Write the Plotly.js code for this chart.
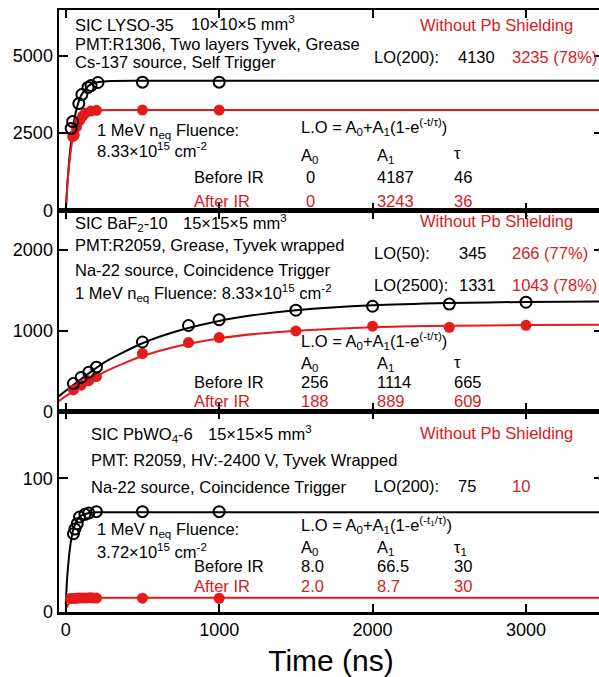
<!DOCTYPE html>
<html><head><meta charset="utf-8">
<script src="https://cdn.plot.ly/plotly-3.0.1.min.js"></script>
<style>html,body{margin:0;padding:0;overflow:hidden;background:#fff}</style>
</head><body><div id="chart" style="width:606px;height:677px"></div>
<script>
// ---------- Data ----------
// Panel 1: SIC LYSO-35
const lysoBeforeT  = [35, 45, 85, 105, 145, 165, 210, 500, 1000];
const lysoBeforeLO = [2650, 2870, 3450, 3740, 3970, 4030, 4130, 4140, 4140];
const lysoAfterT   = [45, 55, 70, 90, 110, 130, 165, 200, 500, 1000];
const lysoAfterLO  = [2390, 2430, 2700, 2900, 3050, 3150, 3210, 3235, 3240, 3240];
const lysoFitT       = [0, 10, 20, 30, 40, 50, 70, 100, 150, 200, 300, 500, 3600];
const lysoBeforeFit  = [0, 820, 1480, 2000, 2430, 2780, 3270, 3710, 4030, 4130, 4180, 4187, 4187];
const lysoAfterFit   = [0, 790, 1380, 1830, 2180, 2440, 2780, 3040, 3190, 3230, 3242, 3243, 3243];

// Panel 2: SIC BaF2-10
const bafT        = [50, 100, 150, 200, 500, 800, 1000, 1500, 2000, 2500, 3000];
const bafBeforeLO = [345, 420, 485, 548, 860, 1065, 1137, 1255, 1304, 1331, 1354];
const bafAfterLO  = [266, 325, 380, 432, 717, 853, 915, 998, 1056, 1043, 1068];
const bafFitT       = [-60, 0, 250, 500, 750, 1000, 1250, 1500, 2000, 2500, 3000, 3600];
const bafBeforeFit  = [165, 256, 605, 845, 1009, 1122, 1200, 1253, 1315, 1344, 1358, 1364];
const bafAfterFit   = [108, 188, 487, 686, 818, 905, 963, 1001, 1044, 1062, 1070, 1074];

// Panel 3: SIC PbWO4-6
const pwoBeforeT  = [50, 60, 75, 90, 125, 150, 200, 500, 1000];
const pwoBeforeLO = [58.5, 62, 66, 71, 73, 74, 75, 75, 75];
const pwoAfterT   = [30, 50, 65, 80, 100, 120, 140, 160, 180, 200, 500, 1000];
const pwoAfterLO  = [10.1, 10.2, 10.3, 10.4, 10.5, 10.5, 10.5, 10.6, 10.5, 10.4, 10.3, 10.2];
const pwoFitT       = [0, 10, 20, 30, 40, 50, 75, 100, 150, 200, 3600];
const pwoBeforeFit  = [6, 27, 40, 50, 57, 62, 69, 72, 74, 74.5, 74.5];
const pwoAfterFit   = [2, 4.5, 6.2, 7.5, 8.3, 8.9, 10, 10.4, 10.6, 10.7, 10.7];

// Tick values
const xTicks = [0, 1000, 2000, 3000];
const y1Ticks = [0, 2500, 5000];
const y2Ticks = [0, 1000, 2000];
const y3Ticks = [0, 100];

// ---------- Styling ----------
const BLACK = '#000000';
const RED = '#e31b1b';
const TXTRED = '#d42222';
const FONT = 'Liberation Sans, Arial, sans-serif';
const FS = 16.5;

function fitLine(x, y, color, xa, ya) {
  return {x: x, y: y, xaxis: xa, yaxis: ya, mode: 'lines', type: 'scatter',
    line: {color: color, width: 2, shape: 'spline', smoothing: 0.6}, hoverinfo: 'skip', showlegend: false};
}
function pts(x, y, color, open, xa, ya) {
  return {x: x, y: y, xaxis: xa, yaxis: ya, mode: 'markers', type: 'scatter', showlegend: false,
    marker: open ? {symbol: 'circle-open', size: 11, color: color, line: {width: 2, color: color}}
                 : {symbol: 'circle', size: 11, color: color, line: {width: 0}}};
}

const traces = [
  // top panel (x3, y3)
  fitLine(lysoFitT, lysoBeforeFit, BLACK, 'x3', 'y3'),
  fitLine(lysoFitT, lysoAfterFit, RED, 'x3', 'y3'),
  pts(lysoAfterT, lysoAfterLO, RED, false, 'x3', 'y3'),
  pts(lysoBeforeT, lysoBeforeLO, BLACK, true, 'x3', 'y3'),
  // middle panel (x2, y2)
  fitLine(bafFitT, bafBeforeFit, BLACK, 'x2', 'y2'),
  fitLine(bafFitT, bafAfterFit, RED, 'x2', 'y2'),
  pts(bafT, bafAfterLO, RED, false, 'x2', 'y2'),
  pts(bafT, bafBeforeLO, BLACK, true, 'x2', 'y2'),
  // bottom panel (x, y)
  fitLine(pwoFitT, pwoBeforeFit, BLACK, 'x', 'y'),
  fitLine(pwoFitT, pwoAfterFit, RED, 'x', 'y'),
  pts(pwoAfterT, pwoAfterLO, RED, false, 'x', 'y'),
  pts(pwoBeforeT, pwoBeforeLO, BLACK, true, 'x', 'y'),
];

// ---------- Layout geometry ----------
const W = 606, H = 677;
const ML = 59, MR = 3, MT = 9.5, MB = 65.3;
const PW = W - ML - MR, PH = H - MT - MB;
const XR = [-44, 3502];

function xax(anchor, labels) {
  return {anchor: anchor, range: XR, tickvals: xTicks, showticklabels: labels,
    ticks: 'inside', ticklen: 8, tickwidth: 2, tickcolor: BLACK,
    showline: true, linewidth: 2.5, linecolor: BLACK, mirror: 'ticks',
    showgrid: false, zeroline: false,
    tickfont: {family: FONT, size: 18, color: BLACK}};
}
function yax(anchor, range, ticks, domain) {
  return {anchor: anchor, range: range, tickvals: ticks, domain: domain,
    ticks: 'inside', ticklen: 9, tickwidth: 2, tickcolor: BLACK,
    showline: true, linewidth: 2.5, linecolor: BLACK, mirror: 'ticks',
    showgrid: false, zeroline: false,
    tickfont: {family: FONT, size: 18, color: BLACK}};
}

// annotation helper from pixel positions (left/middle anchoring)
function A(text, px, py, color, anchor) {
  return {text: text, xref: 'paper', yref: 'paper',
    x: (px - ML) / PW, y: (H - MB - py) / PH,
    xanchor: anchor || 'left', yanchor: 'middle', showarrow: false, borderpad: 0,
    font: {family: FONT, size: FS, color: color || BLACK}};
}

const eqT  = 'L.O = A<sub>0</sub>+A<sub>1</sub>(1-e<sup>(-t/τ)</sup>)';
const eqT1 = 'L.O = A<sub>0</sub>+A<sub>1</sub>(1-e<sup>(-t<sub>1</sub>/τ)</sup>)';

const annotations = [
  // ----- top panel -----
  A('SIC LYSO-35', 74, 25), A('10×10×5 mm<sup>3</sup>', 190, 23),
  A('PMT:R1306, Two layers Tyvek, Grease', 74, 43.5),
  A('Cs-137 source, Self Trigger', 74, 62),
  A('Without Pb Shielding', 419, 25, TXTRED),
  A('LO(200):', 373, 57), A('4130', 457, 57), A('3235 (78%)', 511, 57, TXTRED),
  A('1 MeV n<sub>eq</sub> Fluence:', 96, 131),
  A('8.33×10<sup>15</sup> cm<sup>-2</sup>', 96, 150),
  A(eqT, 300, 127),
  A('A<sub>0</sub>', 300, 156), A('A<sub>1</sub>', 376, 156), A('τ', 453, 153),
  A('Before IR', 193, 177), A('0', 305, 177), A('4187', 376, 177), A('46', 453, 177),
  A('After IR', 193, 201, TXTRED), A('0', 305, 201, TXTRED), A('3243', 376, 201, TXTRED), A('36', 453, 201, TXTRED),
  // ----- middle panel -----
  A('SIC BaF<sub>2</sub>-10', 74, 224), A('15×15×5 mm<sup>3</sup>', 182, 222),
  A('PMT:R2059, Grease, Tyvek wrapped', 74, 245),
  A('Na-22 source, Coincidence Trigger', 74, 270),
  A('1 MeV n<sub>eq</sub> Fluence: 8.33×10<sup>15</sup> cm<sup>-2</sup>', 74, 293),
  A('Without Pb Shielding', 419, 221, TXTRED),
  A('LO(50):', 373, 253), A('345', 458, 253), A('266 (77%)', 511, 253, TXTRED),
  A('LO(2500):', 373, 285), A('1331', 458, 285), A('1043 (78%)', 511, 285, TXTRED),
  A(eqT, 300, 341),
  A('A<sub>0</sub>', 300, 364), A('A<sub>1</sub>', 376, 364), A('τ', 453, 362),
  A('Before IR', 193, 382), A('256', 300, 382), A('1114', 376, 382), A('665', 453, 382),
  A('After IR', 193, 401, TXTRED), A('188', 300, 401, TXTRED), A('889', 376, 401, TXTRED), A('609', 453, 401, TXTRED),
  // ----- bottom panel -----
  A('SIC PbWO<sub>4</sub>-6', 90, 435), A('15×15×5 mm<sup>3</sup>', 207, 433),
  A('PMT: R2059, HV:-2400 V, Tyvek Wrapped', 90, 460),
  A('Na-22 source, Coincidence Trigger', 90, 487),
  A('Without Pb Shielding', 419, 433, TXTRED),
  A('LO(200):', 373, 486), A('75', 457, 486), A('10', 511, 486, TXTRED),
  A('1 MeV n<sub>eq</sub> Fluence:', 96, 530),
  A('3.72×10<sup>15</sup> cm<sup>-2</sup>', 96, 551),
  A(eqT1, 300, 525),
  A('A<sub>0</sub>', 300, 548), A('A<sub>1</sub>', 376, 548), A('τ<sub>1</sub>', 453, 548),
  A('Before IR', 193, 566), A('8.0', 300, 566), A('66.5', 376, 566), A('30', 453, 566),
  A('After IR', 193, 586, TXTRED), A('2.0', 300, 586, TXTRED), A('8.7', 376, 586, TXTRED), A('30', 453, 586, TXTRED),
];

const xMain = xax('y', true);
xMain.title = {text: 'Time (ns)', font: {family: FONT, size: 30, color: BLACK}, standoff: 11};

const layout = {
  width: W, height: H,
  margin: {l: ML, r: MR, t: MT, b: MB, pad: 0},
  paper_bgcolor: '#ffffff', plot_bgcolor: '#ffffff',
  showlegend: false,
  font: {family: FONT, size: FS, color: BLACK},
  xaxis: xMain,
  xaxis2: Object.assign(xax('y2', false), {matches: 'x'}),
  xaxis3: Object.assign(xax('y3', false), {matches: 'x'}),
  yaxis: yax('x', [0, 150], y3Ticks, [0, 1/3]),
  yaxis2: yax('x2', [0, 2490], y2Ticks, [1/3, 2/3]),
  yaxis3: yax('x3', [0, 6466], y1Ticks, [2/3, 1]),
  annotations: annotations
};

Plotly.newPlot('chart', traces, layout, {staticPlot: true, displayModeBar: false});
</script>
</body></html>
